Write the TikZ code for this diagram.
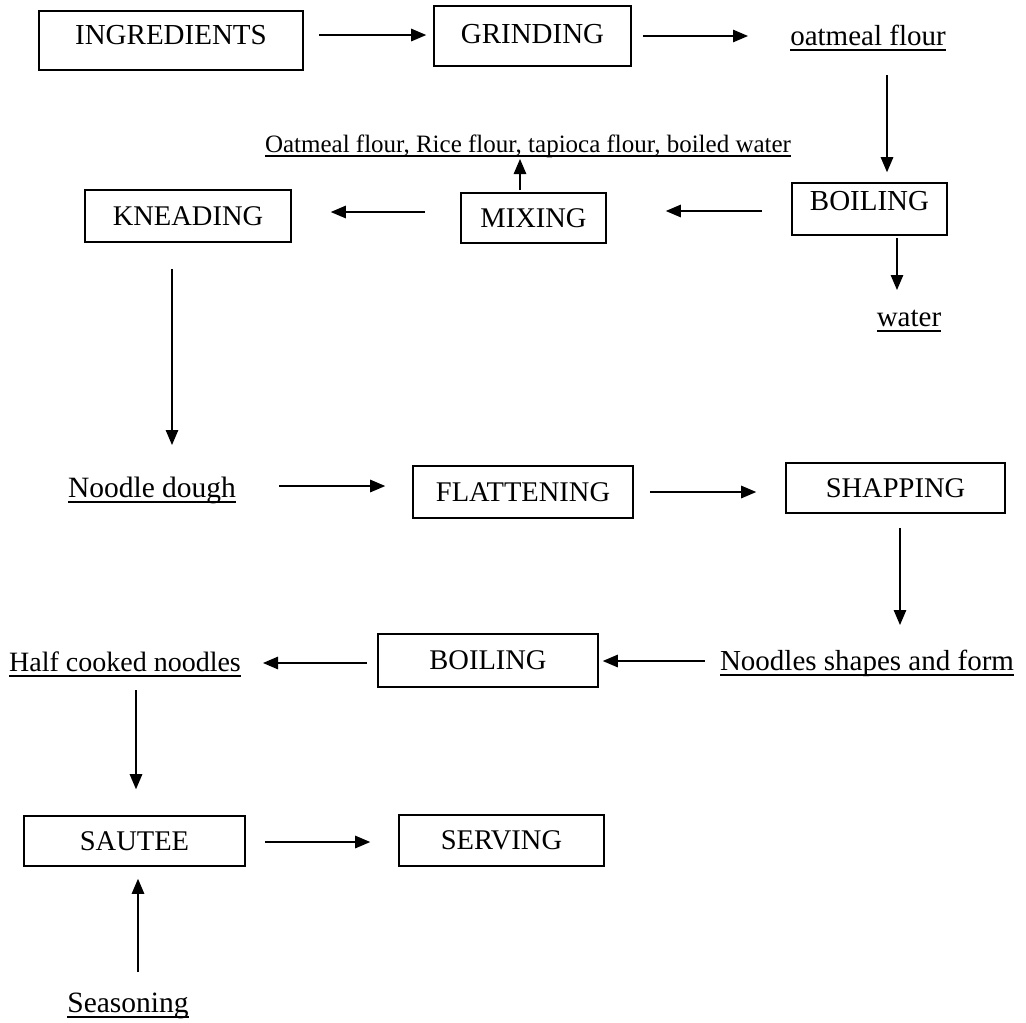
\documentclass[tikz,border=0pt]{standalone}
\usepackage{fontspec}
\setmainfont{Liberation Serif}
\usetikzlibrary{arrows.meta}
\newcommand\ulbl[1]{\setbox0\hbox{#1}\rlap{\rule[-0.2em]{\wd0}{0.065em}}\box0}
\begin{document}
\begin{tikzpicture}[x=1pt,y=-1pt,
  box/.style={draw, line width=1.6pt, inner sep=0pt, text height=19pt, text depth=0pt,
    font=\fontsize{29}{32}\selectfont},
  boxs/.style={box, text height=18.5pt, font=\fontsize{28.5}{31}\selectfont},
  lbl/.style={anchor=base, inner sep=0pt, font=\fontsize{29}{32}\selectfont},
  arr/.style={line width=1.2pt, -{Triangle[length=15pt,width=12.5pt]}}]
\fill[white] (0,0) rectangle (1026,1023);
\useasboundingbox (0,0) rectangle (1026,1023);
% boxes
\node[box, minimum width=264pt, minimum height=59pt, text depth=12pt] (ingr) at (171,40.5) {INGREDIENTS};
\node[box, minimum width=197pt, minimum height=60pt, text depth=4pt] (grind) at (532.5,36) {GRINDING};
\node[box, minimum width=155pt, minimum height=52pt, text depth=16pt] (boil1) at (869.5,209) {BOILING};
\node[boxs, minimum width=145pt, minimum height=50pt] (mix) at (533.5,218) {MIXING};
\node[boxs, minimum width=206pt, minimum height=52pt] (knead) at (188,216) {KNEADING};
\node[boxs, minimum width=220pt, minimum height=52pt] (flat) at (523,492) {FLATTENING};
\node[boxs, minimum width=219pt, minimum height=50pt] (shap) at (895.5,488) {SHAPPING};
\node[boxs, minimum width=220pt, minimum height=53pt] (boil2) at (488,660.5) {BOILING};
\node[boxs, minimum width=221pt, minimum height=50pt] (saut) at (134.5,841) {SAUTEE};
\node[boxs, minimum width=205pt, minimum height=51pt] (serv) at (501.5,840.5) {SERVING};
% labels
\node[lbl] (oat) at (868,45) {\ulbl{oatmeal flour}};
\node[lbl, font=\fontsize{25}{28}\selectfont] (mixin) at (528,152) {\ulbl{Oatmeal flour, Rice flour, tapioca flour, boiled water}};
\node[lbl] (water) at (909,326) {\ulbl{water}};
\node[lbl, font=\fontsize{29.5}{32}\selectfont] (dough) at (152,497) {\ulbl{Noodle dough}};
\node[lbl] (shapes) at (867,670) {\ulbl{Noodles shapes and form}};
\node[lbl, font=\fontsize{28}{31}\selectfont] (half) at (125,671) {\ulbl{Half cooked noodles}};
\node[lbl, font=\fontsize{29.5}{32}\selectfont] (seas) at (128,1012) {\ulbl{Seasoning}};
% connectors
\draw[arr] ([shift={(15,-5.5)}]ingr.east) -- ([shift={(-7,-1)}]grind.west);
\draw[arr] ([xshift=11pt]grind.east) -- ([shift={(-120,-9)}]oat.base);
\draw[arr] ([shift={(19,30)}]oat.base) -- ([shift={(17.5,-10)}]boil1.north);
\draw[arr] ([shift={(27.5,2)}]boil1.south) -- ([shift={(-12,-36)}]water.base);
\draw[arr] ([shift={(-29,2)}]boil1.west) -- ([shift={(59,-7)}]mix.east);
\draw[arr] ([shift={(-13.5,-2)}]mix.north) -- ([shift={(-8,7)}]mixin.base);
\draw[arr] ([shift={(-35,-6)}]mix.west) -- ([shift={(39,-4)}]knead.east);
\draw[arr] ([shift={(-16,26)}]knead.south) -- ([shift={(20,-52)}]dough.base);
\draw[arr] ([shift={(127,-11)}]dough.base) -- ([shift={(-27,-6)}]flat.west);
\draw[arr] ([xshift=16pt]flat.east) -- ([shift={(-29,4)}]shap.west);
\draw[arr] ([shift={(4.5,14)}]shap.south) -- ([shift={(33,-45)}]shapes.base);
\draw[arr] ([shift={(-162,-9)}]shapes.base) -- ([shift={(4,0.5)}]boil2.east);
\draw[arr] ([shift={(-10,2.5)}]boil2.west) -- ([shift={(138,-8)}]half.base);
\draw[arr] ([shift={(11,19)}]half.base) -- ([shift={(1.5,-26)}]saut.north);
\draw[arr] ([shift={(19,1)}]saut.east) -- ([shift={(-28,1.5)}]serv.west);
\draw[arr] ([shift={(10,-40)}]seas.base) -- ([shift={(3.5,12)}]saut.south);
\end{tikzpicture}
\end{document}
